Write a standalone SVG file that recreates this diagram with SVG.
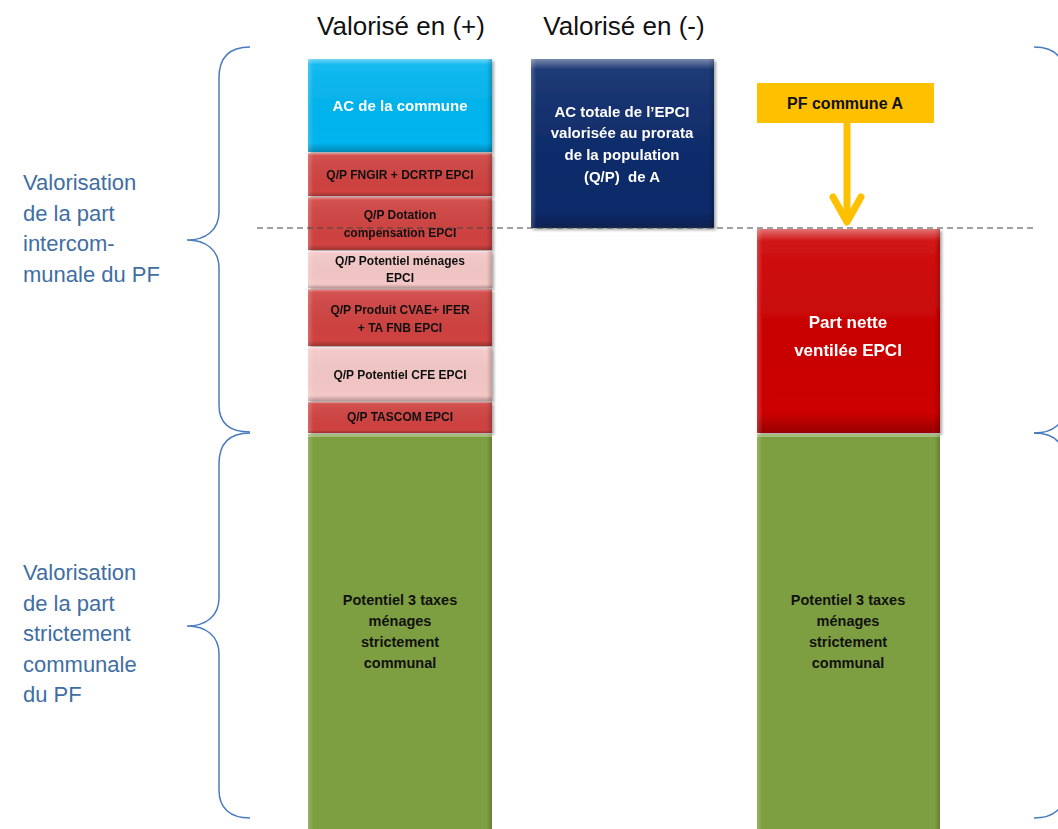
<svg xmlns="http://www.w3.org/2000/svg" width="1058" height="829" viewBox="0 0 1058 829">
<defs>
<linearGradient id="bev" x1="0" y1="0" x2="0" y2="1">
<stop offset="0" stop-color="#fff" stop-opacity="0.45"/>
<stop offset="0.06" stop-color="#fff" stop-opacity="0.08"/>
<stop offset="0.9" stop-color="#000" stop-opacity="0"/>
<stop offset="1" stop-color="#000" stop-opacity="0.25"/>
</linearGradient>
<linearGradient id="bevH" x1="0" y1="0" x2="1" y2="0">
<stop offset="0" stop-color="#fff" stop-opacity="0.2"/>
<stop offset="0.03" stop-color="#fff" stop-opacity="0"/>
<stop offset="0.97" stop-color="#000" stop-opacity="0"/>
<stop offset="1" stop-color="#000" stop-opacity="0.2"/>
</linearGradient>
<filter id="sh" x="-5%" y="-5%" width="112%" height="112%">
<feDropShadow dx="2" dy="2" stdDeviation="1.5" flood-color="#000" flood-opacity="0.35"/>
</filter>
</defs>
<style>
.hdr{font-family:"Liberation Sans",Arial,sans-serif;font-size:26px;fill:#111;text-anchor:middle}
.side{font-family:"Liberation Sans",Arial,sans-serif;font-size:22px;fill:#3F6EA3}
.b{font-family:"Liberation Sans",Arial,sans-serif;font-weight:bold;text-anchor:middle}
.s{font-size:12px;fill:#111}
.m{font-size:14.5px;fill:#111}
.w{fill:#fff}
.brace{fill:none;stroke:#4A7BC0;stroke-width:1.5}
.ov{fill:url(#bev)}
.ovh{fill:url(#bevH)}
.red{fill:#CF4341}
.pink{fill:#F3C7C6}
.green{fill:#7E9F41}
</style>

<text class="hdr" x="401" y="35">Valorisé en (+)</text>
<text class="hdr" x="624" y="35">Valorisé en (-)</text>

<g id="labels-left">
<text class="side" x="23" y="190">Valorisation</text>
<text class="side" x="23" y="221">de la part</text>
<text class="side" x="23" y="251">intercom-</text>
<text class="side" x="23" y="282">munale du PF</text>
<text class="side" x="23" y="580">Valorisation</text>
<text class="side" x="23" y="611">de la part</text>
<text class="side" x="23" y="641">strictement</text>
<text class="side" x="23" y="672">communale</text>
<text class="side" x="23" y="702">du PF</text>
</g>

<g id="braces">
<path class="brace" d="M250,47 C230,47 219,57 219,78 L219,212 C219,230 206,240 187,240 C206,240 219,250 219,268 L219,405 C219,423 230,432 250,432"/>
<path class="brace" d="M250,433 C230,433 219,443 219,464 L219,598 C219,616 206,626 187,626 C206,626 219,636 219,654 L219,790 C219,808 230,818 250,818"/>
<path class="brace" d="M1034,47 C1054,47 1065,57 1065,78 L1065,212 C1065,230 1078,240 1097,240 C1078,240 1065,250 1065,268 L1065,405 C1065,423 1054,433 1034,433"/>
<path class="brace" d="M1034,433 C1054,433 1065,443 1065,464 L1065,598 C1065,616 1078,626 1097,626 C1078,626 1065,636 1065,654 L1065,790 C1065,808 1054,818 1034,818"/>
</g>

<g id="col1">
<g id="ac-commune" filter="url(#sh)">
<rect x="308" y="59" width="184" height="93" fill="#00B5EF"/>
<rect x="308" y="59" width="184" height="93" class="ov"/>
<rect x="308" y="59" width="184" height="93" class="ovh"/>
<text class="b w" x="400" y="111" font-size="15">AC de la commune</text>
</g>
<g id="fngir" filter="url(#sh)">
<rect x="308" y="153" width="184" height="43" class="red"/>
<rect x="308" y="153" width="184" height="43" class="ov"/>
<rect x="308" y="153" width="184" height="43" class="ovh"/>
<text class="b s" x="400" y="179">Q/P FNGIR + DCRTP EPCI</text>
</g>
<g id="dotation" filter="url(#sh)">
<rect x="308" y="197" width="184" height="53" class="red"/>
<rect x="308" y="197" width="184" height="53" class="ov"/>
<rect x="308" y="197" width="184" height="53" class="ovh"/>
<text class="b s" x="400" y="219">Q/P Dotation</text>
<text class="b s" x="400" y="237">compensation EPCI</text>
</g>
<g id="pot-menages" filter="url(#sh)">
<rect x="308" y="251" width="184" height="37" class="pink"/>
<rect x="308" y="251" width="184" height="37" class="ov"/>
<rect x="308" y="251" width="184" height="37" class="ovh"/>
<text class="b s" x="400" y="265">Q/P Potentiel ménages</text>
<text class="b s" x="400" y="282">EPCI</text>
</g>
<g id="produit" filter="url(#sh)">
<rect x="308" y="289" width="184" height="57" class="red"/>
<rect x="308" y="289" width="184" height="57" class="ov"/>
<rect x="308" y="289" width="184" height="57" class="ovh"/>
<text class="b s" x="400" y="314">Q/P Produit CVAE+ IFER</text>
<text class="b s" x="400" y="332">+ TA FNB EPCI</text>
</g>
<g id="cfe" filter="url(#sh)">
<rect x="308" y="347" width="184" height="54" class="pink"/>
<rect x="308" y="347" width="184" height="54" class="ov"/>
<rect x="308" y="347" width="184" height="54" class="ovh"/>
<text class="b s" x="400" y="379">Q/P Potentiel CFE EPCI</text>
</g>
<g id="tascom" filter="url(#sh)">
<rect x="308" y="402" width="184" height="31" class="red"/>
<rect x="308" y="402" width="184" height="31" class="ov"/>
<rect x="308" y="402" width="184" height="31" class="ovh"/>
<text class="b s" x="400" y="421">Q/P TASCOM EPCI</text>
</g>
<g id="green1">
<rect x="308" y="434" width="184" height="400" class="green"/>
<rect x="308" y="434" width="184" height="400" class="ovh"/>
<rect x="308" y="434" width="184" height="3" fill="#fff" opacity="0.3"/>
<text class="b m" x="400" y="605">Potentiel 3 taxes</text>
<text class="b m" x="400" y="626">ménages</text>
<text class="b m" x="400" y="647">strictement</text>
<text class="b m" x="400" y="668">communal</text>
</g>
</g>

<g id="ac-epci" filter="url(#sh)">
<rect x="531" y="59" width="183" height="169" fill="#0C2A6A"/>
<rect x="531" y="59" width="183" height="169" class="ov"/>
<rect x="531" y="59" width="183" height="169" class="ovh"/>
<text class="b w" x="622" y="117" font-size="15">AC totale de l’EPCI</text>
<text class="b w" x="622" y="138" font-size="15">valorisée au prorata</text>
<text class="b w" x="622" y="160" font-size="15">de la population</text>
<text class="b w" x="622" y="182" font-size="15" xml:space="preserve">(Q/P)  de A</text>
</g>

<g id="pf-commune">
<rect x="757" y="83" width="177" height="40" fill="#FFC000"/>
<text class="b" x="845" y="109" font-size="16" fill="#111">PF commune A</text>
</g>

<g id="part-nette" filter="url(#sh)">
<rect x="757" y="229" width="183" height="204" fill="#CC0000"/>
<rect x="757" y="229" width="183" height="204" class="ov"/>
<rect x="757" y="229" width="183" height="204" class="ovh"/>
<text class="b w" x="848" y="328" font-size="17">Part nette</text>
<text class="b w" x="848" y="356" font-size="17">ventilée EPCI</text>
</g>

<g id="green2">
<rect x="757" y="434" width="183" height="400" class="green"/>
<rect x="757" y="434" width="183" height="400" class="ovh"/>
<rect x="757" y="434" width="183" height="3" fill="#fff" opacity="0.3"/>
<text class="b m" x="848" y="605">Potentiel 3 taxes</text>
<text class="b m" x="848" y="626">ménages</text>
<text class="b m" x="848" y="647">strictement</text>
<text class="b m" x="848" y="668">communal</text>
</g>

<g id="connectors">
<line x1="257" y1="228" x2="1037" y2="228" stroke="#444" stroke-width="1.2" stroke-dasharray="6 4"/>
<line x1="847" y1="123" x2="847" y2="222" stroke="#FFC000" stroke-width="7"/>
<polyline points="833,197 847,222 861,197" fill="none" stroke="#FFC000" stroke-width="7" stroke-linecap="round" stroke-linejoin="round"/>
</g>
</svg>
